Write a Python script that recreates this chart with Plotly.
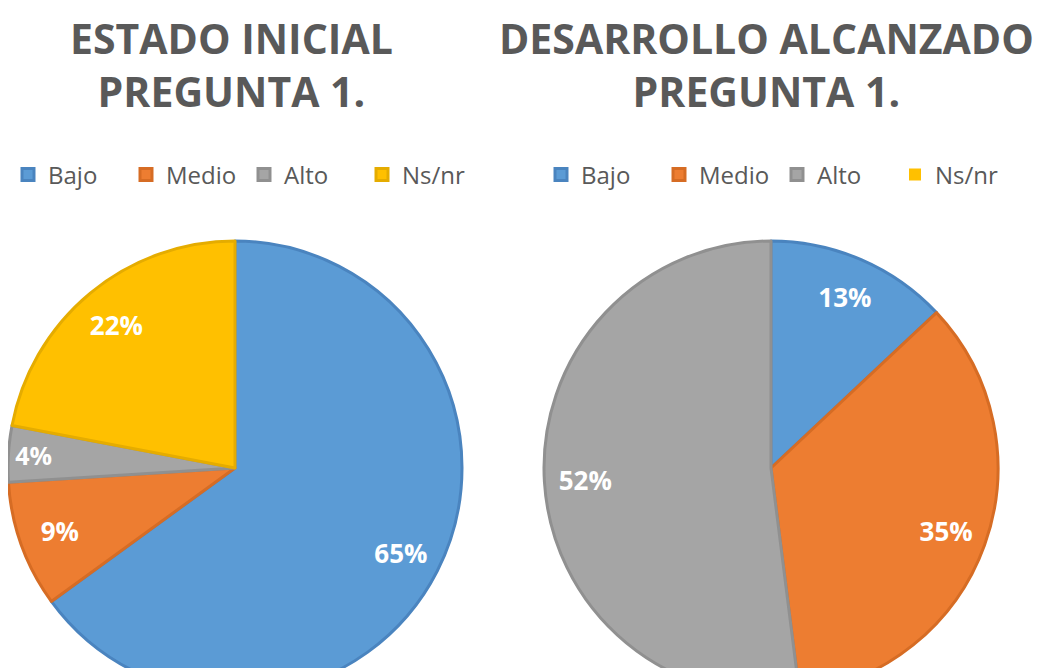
import plotly.graph_objects as go

CATEGORIES = ["Bajo", "Medio", "Alto", "Ns/nr"]
INICIAL = [65, 9, 4, 22]
ALCANZADO = [13, 35, 52, 0]
TITLES = ["ESTADO INICIAL<br>PREGUNTA 1.", "DESARROLLO ALCANZADO<br>PREGUNTA 1."]

COLORS = ["#5B9BD5", "#ED7D31", "#A5A5A5", "#FFC000"]
EDGES = ["#4A84BF", "#D66C24", "#909090", "#E5AC00"]
W, H = 1063, 700   # taller than the window so the pies get cut at the bottom
FONT = "Open Sans"


def pct_text(values):
    return [f"{v}%" if v > 0 else "" for v in values]


def add_pie(fig, labels, values, cx, cy, r, legend):
    dom = dict(x=[max(cx - r, 0) / W, (cx + r) / W],
               y=[1 - (cy + r) / H, 1 - (cy - r) / H])
    fig.add_trace(go.Pie(
        labels=labels, values=values, sort=False, direction="clockwise",
        marker=dict(colors=COLORS,
                    line=dict(color=EDGES, width=[3 if v else 0 for v in values])),
        textinfo="none", domain=dom, legend=legend, hoverinfo="label+percent",
    ))
    # transparent ring only to push the labels towards the rim
    fig.add_trace(go.Pie(
        labels=labels, values=values, sort=False, direction="clockwise",
        hole=0.64, marker=dict(colors=["rgba(0,0,0,0)"] * 4),
        text=pct_text(values), textinfo="text", textposition="inside",
        insidetextorientation="horizontal",
        textfont=dict(family=FONT, size=26, color="white", weight="bold"),
        domain=dom, showlegend=False, hoverinfo="skip",
    ))


fig = go.Figure()
add_pie(fig, CATEGORIES, INICIAL, 227, 460, 227, "legend")
# pie legends merge equal labels, so the second chart gets its own label keys
add_pie(fig, [c + " " for c in CATEGORIES], ALCANZADO, 763, 460, 227, "legend2")

leg = dict(orientation="h", yanchor="middle", y=1 - 167 / H, xanchor="left",
           font=dict(family=FONT, size=24, color="#595959"),
           bgcolor="rgba(0,0,0,0)", traceorder="normal", entrywidth=73)

for cx, t in zip([223, 758], TITLES):
    fig.add_annotation(
        text=t, x=cx / W, y=1, xref="paper", yref="paper",
        xanchor="center", yanchor="top", showarrow=False,
        font=dict(family=FONT, size=41, color="#595959", weight="bold"),
    )

fig.update_layout(
    width=W, height=H, margin=dict(l=0, r=0, t=0, b=0),
    paper_bgcolor="white", plot_bgcolor="white",
    legend=dict(leg, x=0),
    legend2=dict(leg, x=533 / W),
)

fig.write_html("out.html")
